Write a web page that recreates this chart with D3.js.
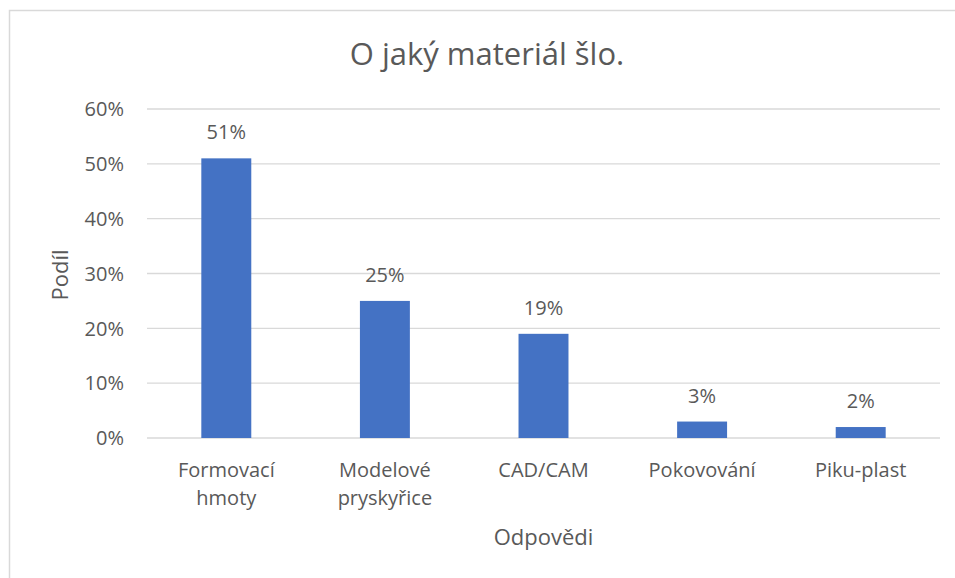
<!DOCTYPE html>
<html>
<head>
<meta charset="utf-8">
<script src="https://cdn.jsdelivr.net/npm/d3@7"></script>
<style>
  body { margin: 0; background: #fff; }
  svg text { font-family: "Open Sans", "Noto Sans", sans-serif; fill: #595959; }
</style>
</head>
<body>
<svg id="chart" width="955" height="578"></svg>
<script>
// chart data
const categories = [["Formovací", "hmoty"], ["Modelové", "pryskyřice"], ["CAD/CAM"], ["Pokovování"], ["Piku-plast"]];
const values = [0.51, 0.25, 0.19, 0.03, 0.02];
const yTicks = [0, 0.1, 0.2, 0.3, 0.4, 0.5, 0.6];

const svg = d3.select("#chart");

// outer chart border (only left/top visible in frame)
svg.append("rect")
  .attr("x", 9.5).attr("y", 10.5)
  .attr("width", 1000).attr("height", 1000)
  .attr("fill", "none")
  .attr("stroke", "#d9d9d9")
  .attr("stroke-width", 1.5);

const plot = { left: 147, right: 940, top: 109, bottom: 438 };

const x = d3.scaleBand()
  .domain(d3.range(categories.length))
  .range([plot.left, plot.right])
  .paddingInner(0.685)
  .paddingOuter(0.3425);

const y = d3.scaleLinear()
  .domain([0, 0.6])
  .range([plot.bottom, plot.top]);

// gridlines
svg.append("g")
  .selectAll("line")
  .data(yTicks)
  .join("line")
  .attr("x1", plot.left).attr("x2", plot.right)
  .attr("y1", d => y(d)).attr("y2", d => y(d))
  .attr("stroke", "#d9d9d9")
  .attr("stroke-width", 1.3);

// y tick labels
svg.append("g")
  .selectAll("text")
  .data(yTicks)
  .join("text")
  .attr("x", 124)
  .attr("y", d => y(d))
  .attr("dy", "0.36em")
  .attr("text-anchor", "end")
  .attr("font-size", 20)
  .text(d3.format(".0%"));

// bars
svg.append("g")
  .selectAll("rect")
  .data(values)
  .join("rect")
  .attr("x", (d, i) => x(i))
  .attr("y", d => y(d))
  .attr("width", x.bandwidth())
  .attr("height", d => y(0) - y(d))
  .attr("fill", "#4472c4");

// data labels
svg.append("g")
  .selectAll("text")
  .data(values)
  .join("text")
  .attr("x", (d, i) => x(i) + x.bandwidth() / 2)
  .attr("y", d => y(d) - 19)
  .attr("text-anchor", "middle")
  .attr("font-size", 20)
  .text(d3.format(".0%"));

// category labels
const catG = svg.append("g")
  .selectAll("text")
  .data(categories)
  .join("text")
  .attr("x", (d, i) => x(i) + x.bandwidth() / 2)
  .attr("y", 477)
  .attr("text-anchor", "middle")
  .attr("font-size", 20);
catG.selectAll("tspan")
  .data(d => d)
  .join("tspan")
  .attr("x", function () { return d3.select(this.parentNode).attr("x"); })
  .attr("dy", (d, i) => i === 0 ? 0 : 28)
  .text(d => d);

// title
svg.append("text")
  .attr("x", 487)
  .attr("y", 65)
  .attr("text-anchor", "middle")
  .attr("font-size", 31)
  .text("O jaký materiál šlo.");

// axis titles
svg.append("text")
  .attr("x", (plot.left + plot.right) / 2)
  .attr("y", 545)
  .attr("text-anchor", "middle")
  .attr("font-size", 22)
  .text("Odpovědi");

svg.append("text")
  .attr("transform", "translate(68,275) rotate(-90)")
  .attr("text-anchor", "middle")
  .attr("font-size", 22)
  .text("Podíl");
</script>
</body>
</html>
